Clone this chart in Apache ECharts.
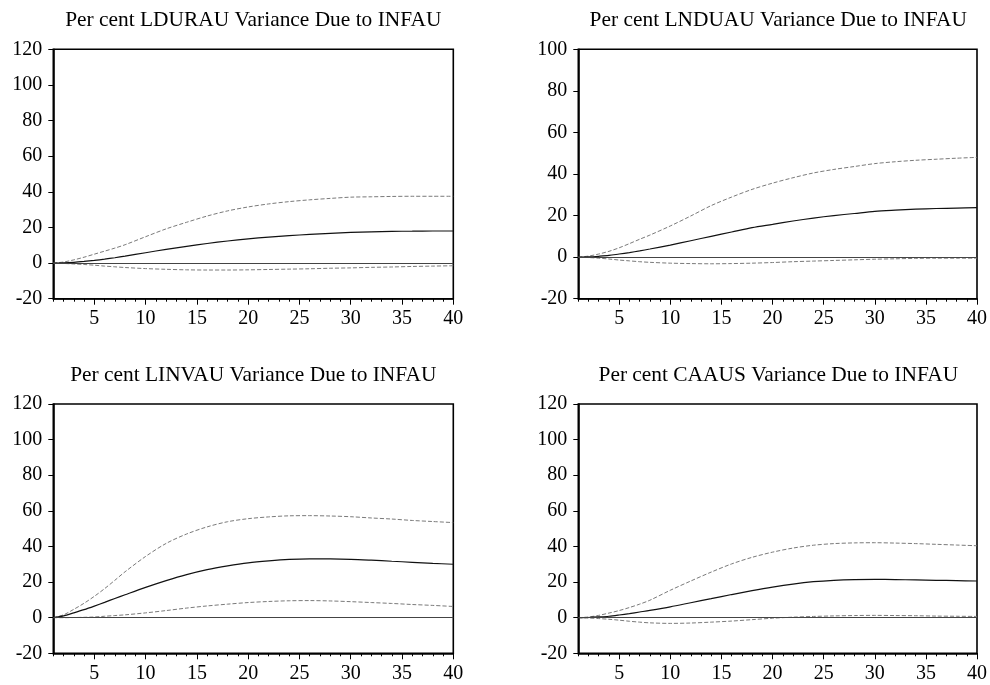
<!DOCTYPE html>
<html>
<head>
<meta charset="utf-8">
<script src="https://cdn.jsdelivr.net/npm/echarts@6/dist/echarts.min.js"></script>
<style>
html,body{margin:0;padding:0;background:#fff;}
#chart{width:990px;height:685px;}
</style>
</head>
<body>
<div id="chart"></div>
<script>
// Forecast horizon (periods)
const periods = [1,2,3,4,5,6,7,8,10,12,14,16,18,20,22,24,26,28,30,32,34,36,38,40];

// Panel titles
const titles = [
  'Per cent LDURAU Variance Due to INFAU',
  'Per cent LNDUAU Variance Due to INFAU',
  'Per cent LINVAU Variance Due to INFAU',
  'Per cent CAAUS Variance Due to INFAU'
];

// Tick labels
const xTickLabels = [5,10,15,20,25,30,35,40];
const yRanges = [[-20,120],[-20,100],[-20,120],[-20,120]];

// LDURAU
const lduUp  = [0,0.6,1.8,3.3,5,6.7,8.4,10.3,14.8,19.2,22.9,26.4,29.3,31.5,33.2,34.5,35.5,36.3,37,37.2,37.4,37.5,37.5,37.5];
const lduMid = [0,0.1,0.4,0.9,1.5,2.2,3,3.9,5.8,7.7,9.4,11,12.4,13.6,14.6,15.4,16.1,16.7,17.2,17.5,17.8,17.9,18,18];
const lduLo  = [0,-0.2,-0.5,-0.8,-1.2,-1.7,-2.1,-2.5,-3.1,-3.5,-3.8,-3.9,-3.9,-3.8,-3.6,-3.4,-3.2,-2.9,-2.7,-2.4,-2.2,-1.9,-1.7,-1.5];

// LNDUAU
const lndUp  = [0,0.5,1.5,2.8,4.5,6.5,8.6,10.6,15,19.8,24.8,28.9,32.6,35.6,38.2,40.5,42.2,43.6,45,45.9,46.6,47.1,47.6,48];
const lndMid = [0,0.1,0.4,0.8,1.5,2.2,3,3.9,5.8,7.9,10,12.1,14.2,15.8,17.4,18.8,20,21,22,22.6,23.1,23.4,23.6,23.8];
const lndLo  = [0,-0.2,-0.5,-0.9,-1.4,-1.8,-2.2,-2.5,-2.9,-3.1,-3.2,-3.1,-2.9,-2.6,-2.2,-1.9,-1.6,-1.3,-1,-0.8,-0.6,-0.5,-0.5,-0.5];

// LINVAU
const linUp  = [0,1.6,4.7,8.1,12,16.3,21,25.8,34.4,41.7,47,51,53.9,55.6,56.6,57.2,57.3,57.1,56.7,56,55.4,54.6,54,53.4];
const linMid = [0,1,2.7,4.5,6.5,8.6,10.8,12.9,17,20.8,24.2,27,29.1,30.8,31.9,32.7,33,33,32.8,32.3,31.7,31.1,30.5,30];
const linLo  = [0,0,0.1,0.2,0.4,0.8,1.2,1.6,2.7,4,5.4,6.6,7.6,8.5,9.1,9.5,9.6,9.4,9,8.5,8,7.4,6.9,6.3];

// CAAUS
const caaUp  = [0,0.4,1.3,2.6,4,5.7,7.6,9.8,15.4,20.6,25.6,30.2,33.9,36.8,39.1,40.7,41.6,42,42.1,41.9,41.6,41.2,40.8,40.4];
const caaMid = [0,0.1,0.4,0.8,1.5,2.3,3.2,4.1,6.1,8.4,10.7,13,15.2,17.2,18.9,20.2,21,21.4,21.5,21.4,21.2,21,20.8,20.6];
const caaLo  = [0,-0.2,-0.5,-0.9,-1.4,-2,-2.5,-2.9,-3.2,-3,-2.5,-1.9,-1.1,-0.3,0.3,0.7,1,1.2,1.3,1.2,1.1,0.9,0.8,0.7];

const panels = [
  [lduUp, lduMid, lduLo],
  [lndUp, lndMid, lndLo],
  [linUp, linMid, linLo],
  [caaUp, caaMid, caaLo]
];

const FONT = 'Liberation Serif, Times New Roman, serif';
const gridPos = [
  {left:53.3, top:49.3, width:400, height:249.4},
  {left:578.3, top:49.3, width:400, height:249.4},
  {left:53.3, top:404, width:400, height:249.3},
  {left:578.3, top:404, width:400, height:249.3}
];
const titlePos = [[253.3,20],[778.3,20],[253.3,375],[778.3,375]];

const allTicks = [];
for (let i = 1; i <= 40; i++) allTicks.push(i);

const grid = [], xAxis = [], yAxis = [], series = [], graphic = [];
const pair = (arr) => periods.map((p, i) => [p, arr[i]]);

panels.forEach((pn, k) => {
  grid.push(Object.assign({show:true, borderColor:'#000', borderWidth:1.6, backgroundColor:'#fff'}, gridPos[k]));
  // minor ticks axis
  xAxis.push({
    type:'value', gridIndex:k, min:1, max:40, position:'bottom',
    axisLine:{show:true, onZero:false, lineStyle:{color:'#000', width:1.6}},
    axisTick:{show:true, customValues:allTicks, length:3, lineStyle:{color:'#000', width:1}},
    axisLabel:{show:false},
    splitLine:{show:false}
  });
  // major ticks + labels axis
  xAxis.push({
    type:'value', gridIndex:k, min:1, max:40, position:'bottom',
    axisLine:{show:false, onZero:false},
    axisTick:{show:true, customValues:xTickLabels, length:6, lineStyle:{color:'#000', width:1}},
    axisLabel:{show:true, customValues:xTickLabels, margin:10, color:'#000', fontFamily:FONT, fontSize:20},
    splitLine:{show:false}
  });
  yAxis.push({
    type:'value', gridIndex:k, min:yRanges[k][0], max:yRanges[k][1], interval:20,
    axisLine:{show:true, onZero:false, lineStyle:{color:'#000', width:1.6}},
    axisTick:{show:true, length:5, lineStyle:{color:'#000', width:1}},
    axisLabel:{margin:11, color:'#000', fontFamily:FONT, fontSize:20},
    splitLine:{show:false}
  });
  const xi = k * 2;
  const styles = [
    {color:'#7a7a7a', width:1, type:[4,2]},
    {color:'#111', width:1.2, type:'solid'},
    {color:'#7a7a7a', width:1, type:[4,2]}
  ];
  pn.forEach((arr, j) => {
    const s = {
      type:'line', xAxisIndex:xi, yAxisIndex:k, data:pair(arr),
      showSymbol:false, smooth:0.3, silent:true,
      lineStyle:styles[j], z: j === 1 ? 4 : 3
    };
    if (j === 1) {
      s.markLine = {silent:true, symbol:'none', label:{show:false},
        lineStyle:{color:'#444', width:1.2, type:'solid'}, data:[{yAxis:0}]};
    }
    series.push(s);
  });
  graphic.push({
    type:'text', x:titlePos[k][0], y:titlePos[k][1],
    style:{text:titles[k], textAlign:'center', textVerticalAlign:'middle',
      font:'21.4px ' + FONT, fill:'#000'}
  });
});

const chart = echarts.init(document.getElementById('chart'), null, {renderer:'canvas'});
chart.setOption({
  backgroundColor:'#fff',
  animation:false,
  grid, xAxis, yAxis, series, graphic
});
</script>
</body>
</html>
